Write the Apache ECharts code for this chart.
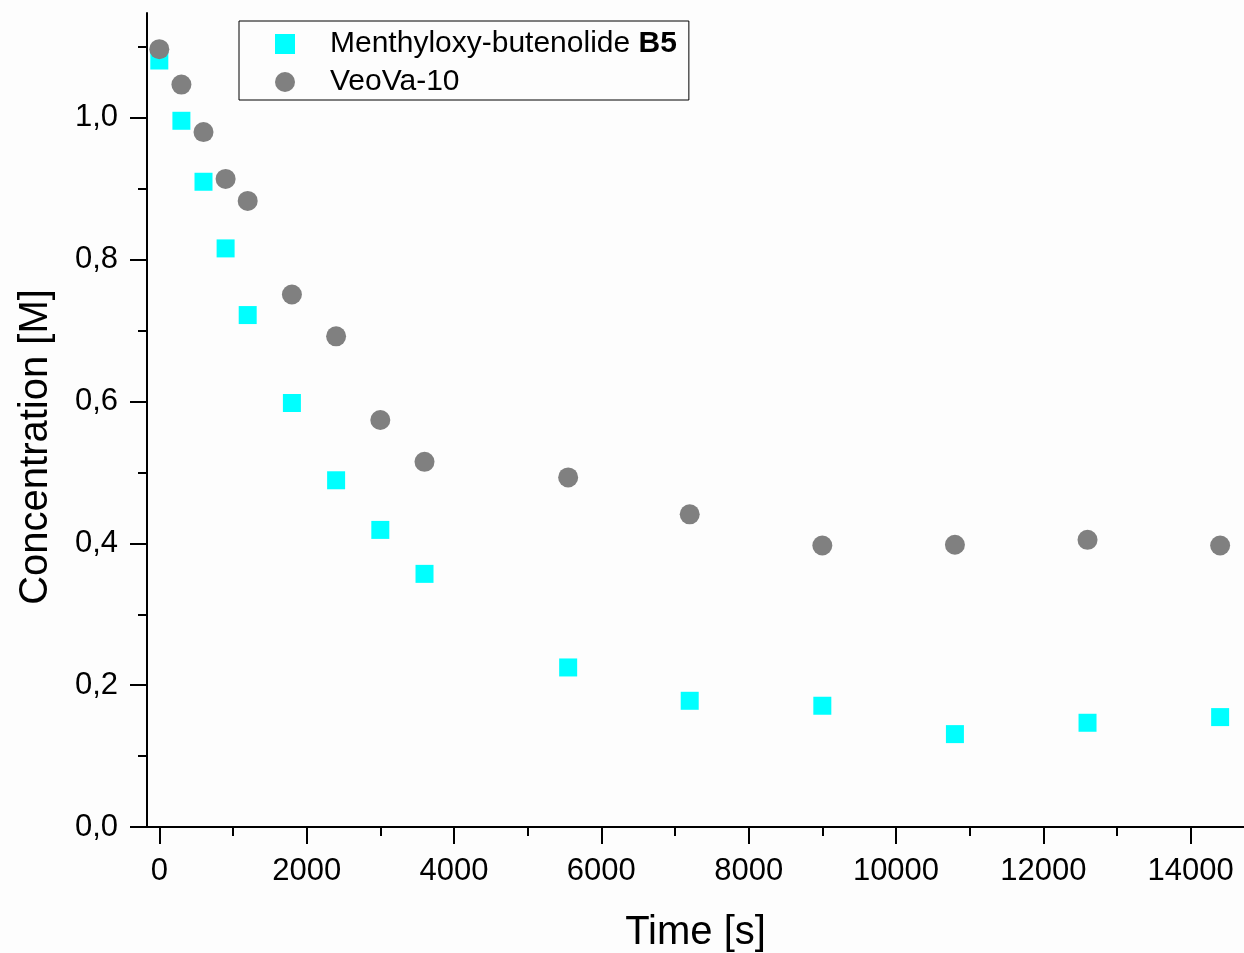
<!DOCTYPE html>
<html><head><meta charset="utf-8">
<script src="https://cdn.jsdelivr.net/npm/echarts@6/dist/echarts.min.js"></script>
<style>html,body{margin:0;padding:0;background:#fdfdfd;overflow:hidden}#c{width:1244px;height:953px}</style>
</head><body><div id="c"></div>
<script>
const timeB5 = [0, 300, 600, 900, 1200, 1800, 2400, 3000, 3600, 5550, 7200, 9000, 10800, 12600, 14400];
const concB5 = [1.081, 0.996, 0.910, 0.816, 0.722, 0.598, 0.489, 0.419, 0.357, 0.225, 0.178, 0.171, 0.131, 0.147, 0.155];
const timeVeoVa = [0, 300, 600, 900, 1200, 1800, 2400, 3000, 3600, 5550, 7200, 9000, 10800, 12600, 14400];
const concVeoVa = [1.097, 1.047, 0.980, 0.914, 0.883, 0.751, 0.692, 0.574, 0.515, 0.493, 0.441, 0.397, 0.398, 0.405, 0.397];
const xMajorTicks = [0, 2000, 4000, 6000, 8000, 10000, 12000, 14000];
const xMinorTicks = [1000, 3000, 5000, 7000, 9000, 11000, 13000];
const yMajorTicks = [0, 0.2, 0.4, 0.6, 0.8, 1.0];
const yMinorTicks = [0.1, 0.3, 0.5, 0.7, 0.9, 1.1];
const seriesNames = ['Menthyloxy-butenolide B5', 'VeoVa-10'];
const xTitle = 'Time [s]';
const yTitle = 'Concentration [M]';

const FONT = '"Liberation Sans", Arial, sans-serif';
const chart = echarts.init(document.getElementById('c'), null, {renderer: 'canvas'});
const pair = (xs, ys) => xs.map((x, i) => [x, ys[i]]);
const xRange = {min: -167, max: 14724};
const yRange = {min: 0, max: 1.148};
const lineStyle = {color: '#000', width: 2};

chart.setOption({
  backgroundColor: '#fdfdfd',
  animation: false,
  textStyle: {fontFamily: FONT},
  grid: {left: 147, right: 0, top: 13, bottom: 126, containLabel: false, outerBoundsMode: 'none'},
  legend: {
    left: 239, top: 21, orient: 'vertical',
    borderColor: '#000', borderWidth: 1, backgroundColor: '#fdfdfd',
    padding: [8, 12, 3, 36], itemGap: 8,
    itemWidth: 20, itemHeight: 20,
    data: seriesNames,
    formatter: n => n === seriesNames[0] ? '{p| }{a|Menthyloxy-butenolide }{b|B5}' : '{p| }{a|' + n + '}',
    textStyle: {
      fontFamily: FONT, fontSize: 30, color: '#000', lineHeight: 30,
      rich: {
        p: {width: 30, fontSize: 30, lineHeight: 30},
        a: {fontFamily: FONT, fontSize: 30, color: '#000', lineHeight: 30},
        b: {fontFamily: FONT, fontSize: 30, color: '#000', fontWeight: 'bold', lineHeight: 30}
      }
    }
  },
  xAxis: [
    Object.assign({
      type: 'value', position: 'bottom',
      axisLine: {show: true, onZero: false, lineStyle},
      axisTick: {show: true, inside: false, length: 17, lineStyle, customValues: xMajorTicks},
      axisLabel: {customValues: xMajorTicks, fontSize: 31, color: '#000', margin: 29, fontFamily: FONT,
        formatter: v => String(v)},
      splitLine: {show: false},
      name: xTitle, nameLocation: 'middle', nameGap: 86,
      nameTextStyle: {fontSize: 40, color: '#000', fontFamily: FONT}
    }, xRange),
    Object.assign({
      type: 'value', position: 'bottom',
      axisLine: {show: false, onZero: false},
      axisTick: {show: true, inside: false, length: 9, lineStyle, customValues: xMinorTicks},
      axisLabel: {show: false},
      splitLine: {show: false}
    }, xRange)
  ],
  yAxis: [
    Object.assign({
      type: 'value', position: 'left',
      axisLine: {show: true, onZero: false, lineStyle},
      axisTick: {show: true, inside: false, length: 17, lineStyle, customValues: yMajorTicks},
      axisLabel: {customValues: yMajorTicks, fontSize: 31, color: '#000', margin: 29, fontFamily: FONT,
        formatter: v => v.toFixed(1).replace('.', ',')},
      splitLine: {show: false}
    }, yRange),
    Object.assign({
      type: 'value', position: 'left',
      axisLine: {show: false, onZero: false},
      axisTick: {show: true, inside: false, length: 9, lineStyle, customValues: yMinorTicks},
      axisLabel: {show: false},
      splitLine: {show: false}
    }, yRange)
  ],
  graphic: [
    {type: 'line', shape: {x1: 130, y1: 827, x2: 148, y2: 827}, style: {stroke: '#000', lineWidth: 2}, z: 10},
    {type: 'text', x: 36, y: 447, rotation: Math.PI / 2,
     style: {text: yTitle, fontSize: 40, fontFamily: FONT, fill: '#000', align: 'center', verticalAlign: 'middle'}}
  ],
  series: [
    {name: seriesNames[0], type: 'scatter', xAxisIndex: 0, yAxisIndex: 0, symbol: 'rect', symbolSize: 18,
     itemStyle: {color: '#00ffff', opacity: 1}, data: pair(timeB5, concB5)},
    {name: seriesNames[1], type: 'scatter', xAxisIndex: 0, yAxisIndex: 0, symbol: 'circle', symbolSize: 20,
     itemStyle: {color: '#808080', opacity: 1}, data: pair(timeVeoVa, concVeoVa)}
  ]
});
</script></body></html>
